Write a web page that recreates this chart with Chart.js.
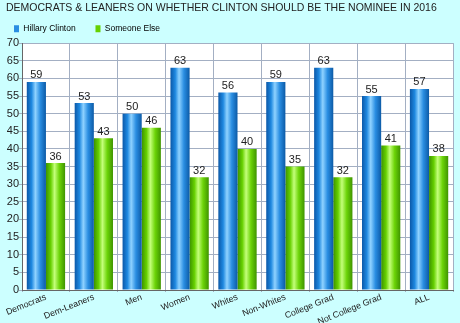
<!DOCTYPE html>
<html>
<head>
<meta charset="utf-8">
<script src="https://cdn.jsdelivr.net/npm/chart.js@4"></script>
<style>
  html, body { margin: 0; padding: 0; background: #ccffff; }
  #wrap { width: 460px; height: 323px; }
</style>
</head>
<body>
<div id="wrap"><canvas id="chart"></canvas></div>
<script>
const categories = ['Democrats', 'Dem-Leaners', 'Men', 'Women', 'Whites', 'Non-Whites', 'College Grad', 'Not College Grad', 'ALL'];
const clintonValues = [59, 53, 50, 63, 56, 59, 63, 55, 57];
const someoneElseValues = [36, 43, 46, 32, 40, 35, 32, 41, 38];
const yTicks = [0, 5, 10, 15, 20, 25, 30, 35, 40, 45, 50, 55, 60, 65, 70];

const FONT = "'Liberation Sans', Arial, sans-serif";
const CAT_PCT = 0.8;

// colour stops for the "cylinder" look of each series
const palettes = [
    ['#0b58a8', '#1e88e0', '#8fd2ff', '#2a8ee2', '#0c5aa6'],
    ['#3c9200', '#66d000', '#c4ff7a', '#6cd408', '#3f9400']
];

function barGradient(ctx) {
    const chart = ctx.chart;
    const xScale = chart.scales.x;
    if (!xScale || ctx.dataIndex === undefined) return palettes[ctx.datasetIndex][1];
    const catWidth = (xScale.right - xScale.left) / categories.length;
    const w = catWidth * CAT_PCT / 2;
    const center = xScale.getPixelForValue(ctx.dataIndex);
    const left = ctx.datasetIndex === 0 ? center - w : center;
    const g = chart.ctx.createLinearGradient(left, 0, left + w, 0);
    const p = palettes[ctx.datasetIndex];
    g.addColorStop(0, p[0]);
    g.addColorStop(0.25, p[1]);
    g.addColorStop(0.45, p[2]);
    g.addColorStop(0.7, p[3]);
    g.addColorStop(1, p[4]);
    return g;
}

// white plotting area on the cyan page
const plotBackground = {
    id: 'plotBackground',
    beforeDraw(chart) {
        const { ctx, chartArea } = chart;
        ctx.save();
        ctx.fillStyle = '#ffffff';
        ctx.fillRect(chartArea.left, chartArea.top, chartArea.right - chartArea.left, chartArea.bottom - chartArea.top);
        ctx.restore();
    }
};

// value printed above every bar
const valueLabels = {
    id: 'valueLabels',
    afterDatasetsDraw(chart) {
        const ctx = chart.ctx;
        ctx.save();
        ctx.font = '11px ' + FONT;
        ctx.fillStyle = '#222222';
        ctx.textAlign = 'center';
        ctx.textBaseline = 'bottom';
        chart.data.datasets.forEach((ds, di) => {
            chart.getDatasetMeta(di).data.forEach((bar, i) => {
                ctx.fillText(ds.data[i], bar.x, bar.y - 1);
            });
        });
        ctx.restore();
    }
};

new Chart(document.getElementById('chart'), {
    type: 'bar',
    data: {
        labels: categories,
        datasets: [{
            label: 'Hillary Clinton',
            data: clintonValues,
            backgroundColor: barGradient,
            borderWidth: 0
        }, {
            label: 'Someone Else',
            data: someoneElseValues,
            backgroundColor: barGradient,
            borderWidth: 0
        }]
    },
    options: {
        responsive: true,
        maintainAspectRatio: false,
        animation: false,
        datasets: {
            bar: { categoryPercentage: CAT_PCT, barPercentage: 1.0 }
        },
        layout: { padding: { left: 6, right: 7, top: 2, bottom: 0 } },
        plugins: {
            title: {
                display: true,
                text: 'DEMOCRATS & LEANERS ON WHETHER CLINTON SHOULD BE THE NOMINEE IN 2016',
                align: 'start',
                color: '#222222',
                font: { family: FONT, size: 10.5, weight: 'normal' },
                padding: { top: 0, bottom: 2 }
            },
            legend: {
                display: true,
                position: 'top',
                align: 'start',
                labels: {
                    color: '#222222',
                    font: { family: FONT, size: 8.5 },
                    boxWidth: 5,
                    boxHeight: 7,
                    padding: 8,
                    generateLabels() {
                        return [
                            { text: 'Hillary Clinton     ', fillStyle: '#2a8ee2', strokeStyle: '#2a8ee2', lineWidth: 0, datasetIndex: 0 },
                            { text: 'Someone Else', fillStyle: '#66d000', strokeStyle: '#66d000', lineWidth: 0, datasetIndex: 1 }
                        ];
                    }
                }
            },
            tooltip: { enabled: false }
        },
        scales: {
            x: {
                afterFit(axis) { axis.height = 33; },
                grid: { color: '#a3afc3', offset: true, drawTicks: true, tickLength: 2 },
                border: { color: '#666666' },
                ticks: {
                    color: '#222222',
                    font: { family: FONT, size: 8.8 },
                    minRotation: 22,
                    maxRotation: 22,
                    autoSkip: false,
                    padding: 0
                }
            },
            y: {
                min: 0,
                max: 70,
                afterBuildTicks(axis) {
                    axis.ticks = yTicks.map(v => ({ value: v }));
                },
                afterFit(axis) { axis.width = 16; },
                grid: { color: '#a3afc3', tickLength: 3 },
                border: { color: '#666666' },
                ticks: {
                    color: '#222222',
                    font: { family: FONT, size: 11 },
                    autoSkip: false,
                    padding: 0
                }
            }
        }
    },
    plugins: [plotBackground, valueLabels]
});
</script>
</body>
</html>
